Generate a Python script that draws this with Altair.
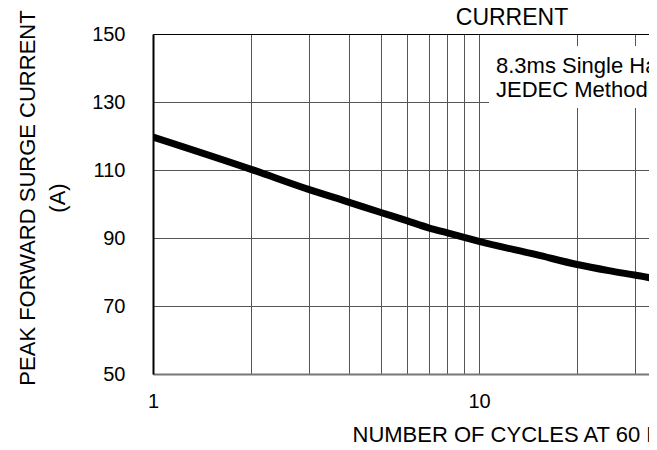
import altair as alt
import pandas as pd

cycles = [1, 2, 3, 4, 5, 6, 7, 8, 9, 10, 15, 20, 25, 30, 40, 50, 70, 100]
current = [119.7, 110.2, 104.3, 100.5, 97.5, 95.1, 93.0, 91.5, 90.2, 89.0,
           85.1, 82.2, 80.4, 79.1, 77.0, 75.6, 73.3, 71.0]

x_grid = [1, 2, 3, 4, 5, 6, 7, 8, 9, 10, 20, 30, 40, 50, 60, 70, 80, 90, 100]
y_ticks = [50, 70, 90, 110, 130, 150]

title_text = "CURRENT"
x_title = "NUMBER OF CYCLES AT 60 Hz"
y_title = ["PEAK FORWARD SURGE CURRENT", "(A)"]
note_lines = ["8.3ms Single Half-Sine-Wave", "JEDEC Method"]

FONT = "Liberation Sans"
df = pd.DataFrame({"cycles": cycles, "current": current})

x_scale = alt.Scale(type="log", domain=[1, 33.22], nice=False)
y_scale = alt.Scale(domain=[50, 150], nice=False, zero=False)

x_axis = alt.Axis(
    values=x_grid,
    labelExpr="datum.value == 1 || datum.value == 10 ? format(datum.value, 'd') : ''",
    labelOverlap=False,
    labelFont=FONT, labelFontSize=20, labelColor="black", labelPadding=17,
    labelFlush=False,
    ticks=False,
    grid=True, gridColor="#555", gridWidth=1,
    domainColor="#777", domainWidth=2,
    title=x_title, titleFont=FONT, titleFontSize=22, titleFontWeight="normal",
    titleColor="black", titleAlign="left", titleX=199, titleY=67,
    titleBaseline="alphabetic",
)

y_axis = alt.Axis(
    values=y_ticks,
    labelFont=FONT, labelFontSize=20, labelColor="black", labelPadding=28,
    ticks=False,
    grid=True,
    gridColor={"condition": {"test": "datum.value === 150", "value": "#000"}, "value": "#555"},
    gridWidth=1,
    domainColor="#000", domainWidth=2,
    title=y_title, titleFont=FONT, titleFontSize=22, titleFontWeight="normal",
    titleColor="black", titleLineHeight=30, titleX=-126, titleY=163.5,
    titleAlign="center", titleBaseline="middle", titleAngle=-90,
)

line = alt.Chart(df).mark_line(
    color="black", strokeWidth=7, clip=True, interpolate="monotone"
).encode(
    x=alt.X("cycles:Q", scale=x_scale, axis=x_axis),
    y=alt.Y("current:Q", scale=y_scale, axis=y_axis),
)

box = alt.Chart(pd.DataFrame({"a": [0]})).mark_rect(fill="white", stroke=None).encode(
    x=alt.value(336), x2=alt.value(530), y=alt.value(12), y2=alt.value(74)
)

note_df = pd.DataFrame({"t": note_lines, "dy": [32, 55.5]})
note = alt.Chart(note_df).mark_text(
    align="left", baseline="middle", font=FONT, fontSize=22, color="black"
).encode(
    x=alt.value(343), y=alt.Y("dy:Q", scale=None), text="t:N"
)

title = alt.Chart(pd.DataFrame({"t": [title_text]})).mark_text(
    align="center", baseline="alphabetic", font=FONT, fontSize=23, color="black"
).encode(x=alt.value(359), y=alt.value(-9), text="t:N")

chart = alt.layer(line, box, note, title).properties(
    width=496, height=340,
    autosize="none",
    padding={"left": 145, "top": 26, "right": 0, "bottom": 68},
).configure_view(stroke=None)

chart.save("out.html", embed_options={"renderer": "svg", "actions": False})
